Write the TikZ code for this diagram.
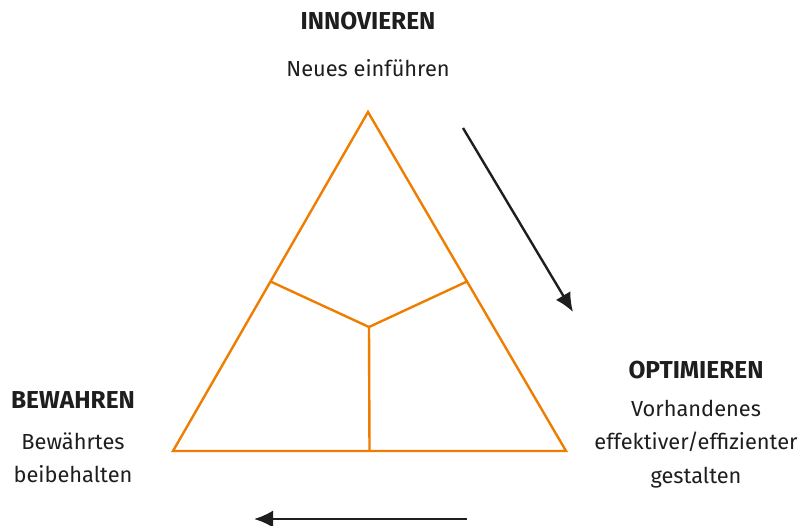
\documentclass[tikz,border=0pt]{standalone}
\usepackage{fontspec}
\setmainfont{Fira Sans}
\usepackage{xcolor}
\usetikzlibrary{calc, arrows.meta}
\definecolor{orangeline}{RGB}{238,125,0}
\definecolor{darkline}{RGB}{30,30,30}

\begin{document}
\begin{tikzpicture}[x=1pt, y=-1pt,
	tri/.style={draw=orangeline, line width=2.4pt, line join=miter},
	flow/.style={draw=darkline, line width=2.4pt, -{Latex[length=19pt, width=17pt]}},
	head/.style={font=\fontsize{24.5}{28}\selectfont\bfseries, text=darkline},
	txt/.style={font=\fontsize{21.8}{33.5}\selectfont, text=darkline, align=center}]
	\useasboundingbox (0,0) rectangle (798,526);
	\coordinate (top) at (368,112);
	\coordinate (left) at (173,451);
	\coordinate (right) at (566,451);
	\coordinate (mid) at (369,327);
	\draw [tri] (top) -- (right) -- (left) -- cycle;
	\draw [tri] (mid) -- ($(top)!0.5!(left)$);
	\draw [tri] (mid) -- ($(top)!0.5!(right)$);
	\draw [tri] (mid) -- ($(left)!0.5!(right)$);
	\node [head] (inno) at (368,21) {INNOVIEREN};
	\node [txt] (innotxt) at (368,68) {Neues einführen};
	\node [head] (opti) at (696,370) {OPTIMIEREN};
	\node [txt] (optitxt) at (696,444) {Vorhandenes\\effektiver/effizienter\\gestalten};
	\node [head] (bewa) at (73,400) {BEWAHREN};
	\node [txt] (bewatxt) at (73,458) {Bewährtes\\beibehalten};
	\coordinate (a1) at (463,128);
	\coordinate (a2) at (573,312);
	\draw [flow] (a1) -- (a2);
	\coordinate (b1) at (467,519);
	\coordinate (b2) at (254,519);
	\draw [flow] (b1) -- (b2);
\end{tikzpicture}
\end{document}
